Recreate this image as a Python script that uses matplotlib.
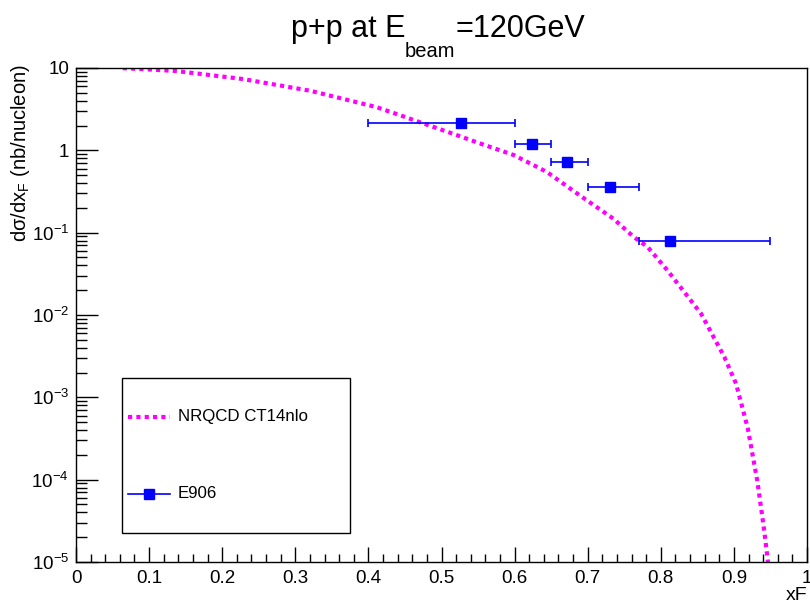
import numpy as np
import matplotlib
matplotlib.use("Agg")
import matplotlib.pyplot as plt
from matplotlib.lines import Line2D
from matplotlib.patches import Rectangle
from matplotlib.ticker import MultipleLocator, FixedLocator, FixedFormatter, LogLocator, NullFormatter

plt.rcParams["font.family"] = ["Liberation Sans", "DejaVu Sans"]
plt.rcParams["mathtext.fontset"] = "custom"
plt.rcParams["mathtext.rm"] = "Liberation Sans"
plt.rcParams["mathtext.it"] = "Liberation Sans"

# --- NRQCD CT14nlo prediction (dsigma/dxF, nb/nucleon) ---
theory_xf = [0.064, 0.091, 0.137, 0.228, 0.320, 0.411, 0.447, 0.462, 0.508,
             0.553, 0.599, 0.644, 0.690, 0.735, 0.763, 0.782, 0.809, 0.855,
             0.887, 0.903, 0.919, 0.932, 0.9415, 0.946, 0.948]
theory_val = [9.95, 9.7, 9.2, 7.35, 5.3, 3.35, 2.6, 2.33, 1.68,
              1.21, 0.875, 0.547, 0.28, 0.148, 0.0887, 0.067, 0.0349, 0.0104,
              0.00308, 0.00146, 0.00042, 9.7e-5, 2.4e-5, 1.1e-5, 8e-6]

# --- E906 measurement ---
e906_xf = [0.527, 0.624, 0.671, 0.730, 0.813]
e906_val = [2.16, 1.20, 0.72, 0.354, 0.079]
e906_bin_lo = [0.40, 0.60, 0.65, 0.70, 0.77]
e906_bin_hi = [0.60, 0.65, 0.70, 0.77, 0.95]

ytick_vals = [1e-5, 1e-4, 1e-3, 1e-2, 1e-1, 1, 10]
ytick_labels = [r"10$^{-5}$", r"10$^{-4}$", r"10$^{-3}$", r"10$^{-2}$", r"10$^{-1}$", "1", "10"]

MAGENTA = "#ff00ff"
BLUE = "#0000ff"
TICK_FS = 13.5

fig = plt.figure(figsize=(8.1, 6.06), dpi=100)
ax = fig.add_axes([76 / 810, 1 - 562 / 606, 731 / 810, 494 / 606])

ax.plot(theory_xf, theory_val, color=MAGENTA, lw=3.0, ls=(0, (1, 1)),
        dash_capstyle="butt")

xf = np.array(e906_xf)
xerr = [xf - np.array(e906_bin_lo), np.array(e906_bin_hi) - xf]
ax.errorbar(xf, e906_val, xerr=xerr, fmt="s", color=BLUE, ms=7.5,
            elinewidth=1.2, capsize=3, capthick=1.2, zorder=5)

ax.set_yscale("log")
ax.set_xlim(0, 1)
ax.set_ylim(1e-5, 10)

ax.xaxis.set_major_locator(MultipleLocator(0.1))
ax.xaxis.set_minor_locator(MultipleLocator(0.02))
ax.xaxis.set_major_formatter(plt.FuncFormatter(lambda v, p: f"{v:g}"))
ax.yaxis.set_major_locator(FixedLocator(ytick_vals))
ax.yaxis.set_major_formatter(FixedFormatter(ytick_labels))
ax.yaxis.set_minor_locator(LogLocator(base=10, subs=np.arange(2, 10)))
ax.yaxis.set_minor_formatter(NullFormatter())

ax.tick_params(axis="both", which="both", direction="in", top=False, right=False,
               width=1.0, labelsize=TICK_FS)
ax.tick_params(axis="x", which="major", length=11, pad=6)
ax.tick_params(axis="x", which="minor", length=5.5)
ax.tick_params(axis="y", which="major", length=16, pad=5)
ax.tick_params(axis="y", which="minor", length=8)
for sp in ax.spines.values():
    sp.set_linewidth(1.0)

ax.set_xlabel("xF", loc="right", fontsize=14, labelpad=0)
fig.text(21 / 810, 1 - 64 / 606, r"dσ/dx$_{\rm F}$ (nb/nucleon)",
         rotation=90, ha="center", va="top", fontsize=14.5)

# title with a dropped ROOT-style subscript, assembled piece by piece
renderer = fig.canvas.get_renderer()
title_parts = [("p+p at E", 22, 0), ("beam", 14.5, -20), ("=120GeV", 22, 0)]
base_y = 1 - 37 / 606
pieces = []
total_w = 0.0
for txt, fs, dy in title_parts:
    t = fig.text(0, base_y + dy / 606, txt, fontsize=fs, ha="left", va="baseline")
    w = t.get_window_extent(renderer).width
    pieces.append((t, w))
    total_w += w
x_px = 438 - total_w / 2
for t, w in pieces:
    t.set_x(x_px / 810)
    x_px += w

# legend box
lx0, ly0 = (121.7 - 76) / 731, (562 - 532.7) / 494
lw_, lh_ = (350 - 121.7) / 731, (532.7 - 378) / 494
ax.add_patch(Rectangle((lx0, ly0), lw_, lh_, transform=ax.transAxes,
                       facecolor="white", edgecolor="black", lw=1.0, zorder=6))
hx0, hx1 = (128 - 76) / 731, (170 - 76) / 731
ty1, ty2 = (562 - 416.7) / 494, (562 - 494) / 494
ax.add_line(Line2D([hx0, hx1], [ty1, ty1], transform=ax.transAxes, color=MAGENTA,
                   lw=3.0, ls=(0, (1, 1)), zorder=7))
ax.add_line(Line2D([hx0, hx1], [ty2, ty2], transform=ax.transAxes, color=BLUE,
                   lw=1.2, zorder=7))
ax.add_line(Line2D([(hx0 + hx1) / 2], [ty2], transform=ax.transAxes, color=BLUE,
                   marker="s", ms=7.5, zorder=8))
tx = (178 - 76) / 731
ax.text(tx, ty1, "NRQCD CT14nlo", transform=ax.transAxes, va="center", ha="left",
        fontsize=12.2, zorder=8)
ax.text(tx, ty2, "E906", transform=ax.transAxes, va="center", ha="left",
        fontsize=12.2, zorder=8)

fig.savefig("out.png", dpi=100)
